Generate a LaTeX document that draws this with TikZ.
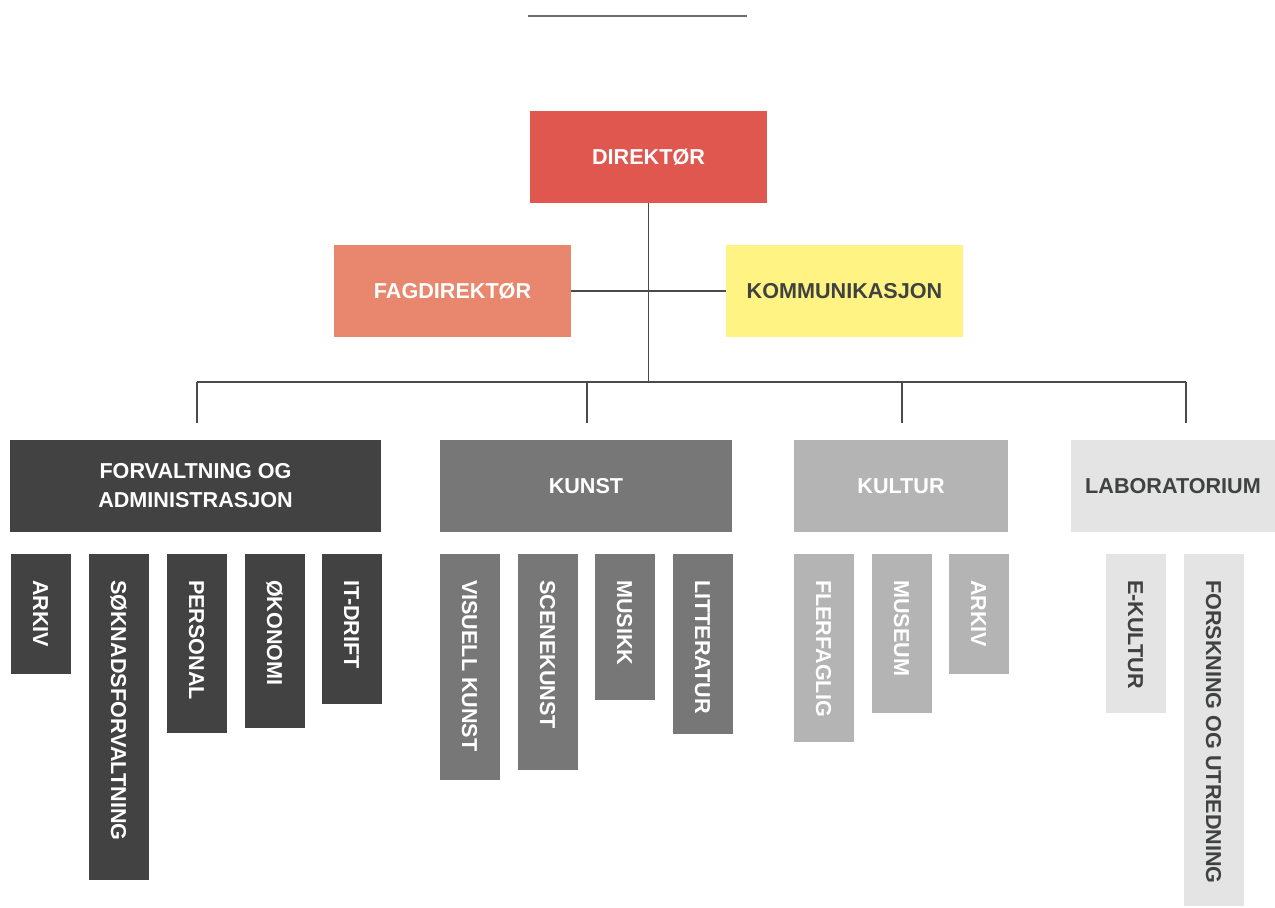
\documentclass[tikz,border=0pt]{standalone}
\usepackage{fontspec}
\setmainfont{Liberation Sans}
\usetikzlibrary{positioning}
\definecolor{dirred}{HTML}{E05750}
\definecolor{fagsalmon}{HTML}{E8876D}
\definecolor{kommyellow}{HTML}{FFF383}
\definecolor{forvdark}{HTML}{414241}
\definecolor{kunstgray}{HTML}{767776}
\definecolor{kulturgray}{HTML}{B3B4B3}
\definecolor{labgray}{HTML}{E3E4E3}
\definecolor{darktext}{HTML}{404241}
\definecolor{linegray}{HTML}{4A4A4A}
\definecolor{rulegray}{HTML}{6E6E6E}
\newcommand{\vlabel}[2]{\makebox[#1][l]{#2}}

\begin{document}
\begin{tikzpicture}[
    x=0.5pt, y=-0.5pt,
    box/.style={inner sep=0pt, outer sep=0pt, align=center, text=white,
                font=\fontsize{10.8}{14.5}\selectfont\bfseries},
    capline/.style={text height=7.8pt, text depth=0pt},
    lead/.style={box, capline, fill=#1, minimum width=118.5pt, minimum height=46pt},
    div/.style={box, fill=#1, minimum height=46pt},
    sub/.style={box, capline, fill=#1, rotate=-90, anchor=west,
                minimum height=30pt, inner xsep=13pt},
    link/.style={draw=linegray, line width=0.55pt},
    rule/.style={draw=rulegray, line width=0.8pt}
]
  \useasboundingbox (0,0) rectangle (1275,907);
  \draw[rule] (528,16) -- (747,16);

  % leadership
  \node[lead=dirred] (dir) at (648.5,157) {DIREKTØR};
  \node[lead=fagsalmon] (fag) at (452.5,291) {FAGDIREKTØR};
  \node[lead=kommyellow, text=darktext, right=77.5pt of fag] (komm) {KOMMUNIKASJON};

  % divisions
  \node[div=forvdark, minimum width=185.5pt] (forv) at (195.5,486)
       {FORVALTNING OG\\ADMINISTRASJON};
  \node[div=kunstgray, capline, minimum width=146pt, right=29.5pt of forv] (kunst) {KUNST};
  \node[div=kulturgray, capline, minimum width=107pt, right=31pt of kunst] (kultur) {KULTUR};
  \node[div=labgray, capline, text=darktext, minimum width=102pt, right=31.5pt of kultur] (lab) {LABORATORIUM};

  % connectors
  \coordinate (bus) at (650,382);
  \coordinate (dropF) at (197,423);
  \coordinate (dropK) at (587,423);
  \coordinate (dropC) at (902,423);
  \coordinate (dropL) at (1186,423);
  \draw[link] (dir.south) -- (dir.south |- bus);
  \draw[link] (fag.east) -- (komm.west);
  \draw[link] (dropF |- bus) -- (dropL |- bus);
  \foreach \d in {dropF,dropK,dropC,dropL}
    \draw[link] (\d |- bus) -- (\d);

  % units under forvaltning
  \node[sub=forvdark] (arkivF) at (41,554) {\vlabel{34pt}{ARKIV}};
  \node[sub=forvdark] (sokn) at (119,554) {\vlabel{137pt}{SØKNADSFORVALTNING}};
  \node[sub=forvdark] (pers) at (197,554) {\vlabel{63.5pt}{PERSONAL}};
  \node[sub=forvdark] (okon) at (275,554) {\vlabel{61pt}{ØKONOMI}};
  \node[sub=forvdark] (itdrift) at (352,554) {\vlabel{49pt}{IT-DRIFT}};

  % units under kunst
  \node[sub=kunstgray] (visuell) at (470,554) {\vlabel{87pt}{VISUELL KUNST}};
  \node[sub=kunstgray] (scene) at (548,554) {\vlabel{82pt}{SCENEKUNST}};
  \node[sub=kunstgray] (musikk) at (625,554) {\vlabel{47pt}{MUSIKK}};
  \node[sub=kunstgray] (litt) at (703,554) {\vlabel{64pt}{LITTERATUR}};

  % units under kultur
  \node[sub=kulturgray] (fler) at (824,554) {\vlabel{68pt}{FLERFAGLIG}};
  \node[sub=kulturgray] (museum) at (902,554) {\vlabel{53.5pt}{MUSEUM}};
  \node[sub=kulturgray] (arkivC) at (979,554) {\vlabel{34pt}{ARKIV}};

  % units under laboratorium
  \node[sub=labgray, text=darktext] (ekultur) at (1136,554) {\vlabel{53.5pt}{E-KULTUR}};
  \node[sub=labgray, text=darktext] (forsk) at (1214,554) {\vlabel{150pt}{FORSKNING OG UTREDNING}};
\end{tikzpicture}
\end{document}
